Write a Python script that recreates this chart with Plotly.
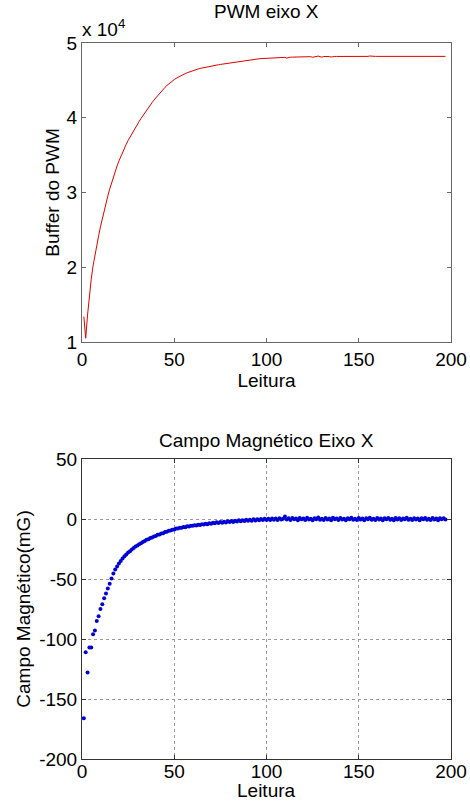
import plotly.graph_objects as go

# ---------------- data ----------------
leitura_pwm = list(range(1, 198))
buffer_pwm = [
    13400, 10500, 13600, 16600, 18400, 20200, 21700, 23000, 24200, 25400,
    26500, 27600, 28600, 29550, 30450, 31300, 32100, 32850, 33550, 34200,
    34820, 35400, 35950, 36470, 36960, 37420, 37860, 38290, 38710, 39120,
    39520, 39910, 40290, 40660, 41020, 41370, 41710, 42040, 42360, 42670,
    42970, 43260, 43540, 43810, 44070, 44310, 44530, 44740, 44930, 45110,
    45270, 45420, 45560, 45690, 45810, 45920, 46020, 46120, 46210, 46300,
    46380, 46460, 46530, 46600, 46660, 46720, 46780, 46830, 46880, 46930,
    46970, 47010, 47050, 47090, 47130, 47170, 47210, 47250, 47290, 47330,
    47370, 47410, 47450, 47490, 47530, 47570, 47610, 47650, 47690, 47730,
    47760, 47790, 47820, 47850, 47870, 47890, 47910, 47920, 47940, 47950,
    47960, 47980, 47990, 48000, 48020, 48030, 48040, 48050, 48060, 48080,
    47980, 48090, 48100, 48110, 48120, 48120, 48130, 48140, 48140, 48150,
    48150, 48160, 48160, 48170, 48090, 48170, 48180, 48250, 48180, 48100,
    48190, 48190, 48260, 48190, 48120, 48200, 48200, 48200, 48200, 48200,
    48200, 48200, 48200, 48200, 48110, 48200, 48200, 48200, 48210, 48210,
    48210, 48210, 48210, 48210, 48210, 48260, 48210, 48210, 48210, 48210,
    48210, 48210, 48220, 48210, 48210, 48210, 48210, 48220, 48210, 48210,
    48210, 48210, 48210, 48220, 48210, 48210, 48210, 48210, 48210, 48210,
    48210, 48210, 48210, 48210, 48220, 48210, 48210, 48210, 48210, 48210,
    48210, 48210, 48210, 48210, 48210, 48210, 48210,
]

leitura_campo = list(range(1, 198))
campo_mg = [
    -166, -111, -128, -107, -107, -96, -93, -85, -81, -75,
    -71, -66, -62, -58, -54, -49.5, -45.5, -42, -39.5, -37,
    -35, -33, -31, -29.5, -28, -26.8, -25.5, -24.2, -23, -22,
    -21, -20.2, -19.1, -18.3, -17.2, -16.8, -15.9, -15.4, -14.5, -14.1,
    -13.2, -12.9, -12.0, -11.8, -10.9, -10.6, -9.8, -9.6, -8.9, -8.7,
    -8.0, -7.9, -7.3, -7.3, -6.7, -6.8, -6.1, -6.2, -5.6, -5.7,
    -5.2, -5.4, -4.8, -5.1, -4.4, -4.6, -4.0, -4.4, -3.6, -3.9,
    -3.2, -3.6, -2.8, -3.3, -2.5, -3.1, -2.3, -2.9, -1.9, -2.6,
    -1.6, -2.4, -1.5, -2.1, -1.1, -1.9, -1.0, -1.7, -0.7, -1.5,
    -0.6, -1.4, -0.3, -1.2, -0.2, -1.0, 0.1, -0.9, 0.3, -0.8,
    0.2, -0.9, 0.5, -0.6, 0.4, -0.8, 0.7, -0.5, 0.3, 2.0,
    -0.4, 0.6, -0.9, 0.8, -0.3, 0.5, -1.0, 0.9, -0.2, 0.4,
    -0.8, 1.0, -0.5, 0.3, -1.1, 0.7, -0.2, 1.2, -0.7, 0.2,
    -0.9, 0.8, -0.4, 0.5, -1.0, 1.1, -0.3, 0.4, -0.8, 0.9,
    -0.5, 0.2, -1.1, 0.7, -0.2, 1.0, -0.6, 0.3, -0.9, 0.8,
    -0.4, 0.5, -1.0, 0.6, -0.3, 1.1, -0.7, 0.2, -0.8, 0.9,
    -0.5, 0.4, -1.1, 0.7, -0.2, 0.9, -0.6, 0.3, -1.0, 0.8,
    -0.4, 0.6, -0.9, 0.5, -0.3, 1.0, -0.7, 0.2, -0.8, 0.7,
    -0.5, 0.4, -1.0, 0.6, -0.2, 0.9, -0.6, 0.3, -0.9, 0.8,
    -0.4, 0.5, -1.0, 0.6, -0.3, 0.7, -0.5,
]

x_ticks = [0, 50, 100, 150, 200]
x_ticktext = ["0", "50", "100", "150", "200"]
pwm_ticks = [10000, 20000, 30000, 40000, 50000]
pwm_ticktext = ["1", "2", "3", "4", "5"]
campo_ticks = [-200, -150, -100, -50, 0, 50]
campo_ticktext = ["-200", "-150", "-100", "-50", "0", "50"]

# ---------------- figure ----------------
W, H = 470, 802
FONT = "Liberation Sans, Arial, sans-serif"
FS = 19

def px_x(p):
    return p / W

def px_y(p):
    return 1 - p / H

xdom = [px_x(82), px_x(451)]
xmid = (xdom[0] + xdom[1]) / 2

fig = go.Figure()
fig.add_trace(go.Scatter(
    x=leitura_pwm, y=buffer_pwm, mode="lines",
    line=dict(color="#e00000", width=1),
    xaxis="x", yaxis="y", showlegend=False,
))
fig.add_trace(go.Scatter(
    x=leitura_campo, y=campo_mg, mode="markers",
    marker=dict(color="#0000d8", size=4, line=dict(width=0)),
    xaxis="x2", yaxis="y2", showlegend=False,
))

axis_common = dict(
    showline=True, mirror="ticks", ticks="inside", ticklen=4,
    tickfont=dict(family=FONT, size=FS, color="black"),
    zeroline=False, automargin=False,
)

fig.update_layout(
    template="none",
    width=W, height=H, autosize=False,
    margin=dict(l=0, r=0, t=0, b=0, pad=0),
    paper_bgcolor="white", plot_bgcolor="white",
    font=dict(family=FONT, size=FS, color="black"),
    xaxis=dict(domain=xdom, range=[0, 200], tickvals=x_ticks, ticktext=x_ticktext,
               showgrid=False, linecolor="#666", tickcolor="#666", anchor="y",
               title=dict(text="Leitura", standoff=0, font=dict(size=FS)),
               **axis_common),
    yaxis=dict(domain=[px_y(342), px_y(43)], range=[10000, 50000],
               tickvals=pwm_ticks, ticktext=pwm_ticktext,
               showgrid=False, linecolor="#666", tickcolor="#666", anchor="x",
               title=dict(text="Buffer do PWM", standoff=1, font=dict(size=FS)),
               **axis_common),
    xaxis2=dict(domain=xdom, range=[0, 200], tickvals=x_ticks, ticktext=x_ticktext,
                showgrid=True, gridcolor="#999", griddash="dot", gridwidth=1,
                linecolor="#333", tickcolor="#333", anchor="y2",
                ticklabelstandoff=-5,
                **axis_common),
    yaxis2=dict(domain=[px_y(759), px_y(459)], range=[-200, 50],
                tickvals=campo_ticks, ticktext=campo_ticktext,
                showgrid=True, gridcolor="#999", griddash="dot", gridwidth=1,
                linecolor="#333", tickcolor="#333", anchor="x2",
                title=dict(text="Campo Magnético(mG)", standoff=3, font=dict(size=FS)),
                **axis_common),
    annotations=[
        dict(text="PWM eixo X", x=xmid, y=px_y(12),
             xref="paper", yref="paper", showarrow=False,
             xanchor="center", yanchor="middle",
             font=dict(family=FONT, size=FS, color="black")),
        dict(text="Campo Magnético Eixo X", x=xmid, y=px_y(440),
             xref="paper", yref="paper", showarrow=False,
             xanchor="center", yanchor="middle",
             font=dict(family=FONT, size=FS, color="black")),
        dict(text="x 10<sup>4</sup>", x=px_x(80), y=px_y(28),
             xref="paper", yref="paper", showarrow=False,
             xanchor="left", yanchor="middle",
             font=dict(family=FONT, size=FS, color="black")),
        dict(text="Leitura", x=xmid, y=0,
             xref="paper", yref="paper", showarrow=False,
             xanchor="center", yanchor="bottom", borderpad=0,
             font=dict(family=FONT, size=FS, color="black")),
    ],
)

fig.write_html("out.html", post_script="document.body.style.margin='0';",
               config={"displayModeBar": False})
